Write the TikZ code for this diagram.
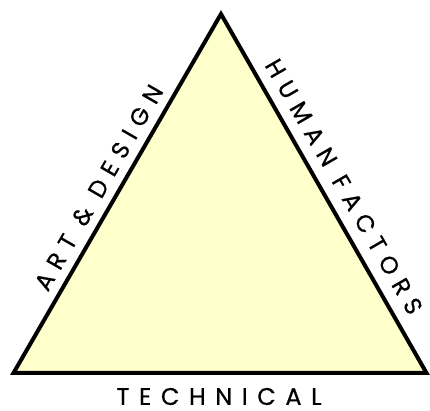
\documentclass[tikz,border=0pt]{standalone}
\usepackage{fontspec}
\setmainfont{Poppins}[LetterSpace=40, FakeBold=0.6]
\usetikzlibrary{calc}
\definecolor{paleyellow}{HTML}{FFFFCC}
\begin{document}
\begin{tikzpicture}[x=1pt,y=1pt,
  edgelabel/.style={font=\fontsize{24}{28}\selectfont, inner sep=0pt, anchor=center},
  sidelabel/.style={edgelabel, font=\fontsize{24}{28}\selectfont\addfontfeatures{LetterSpace=34}},
  tri/.style={draw=black, line width=4pt, line join=miter, fill=paleyellow}]
\useasboundingbox (0,0) rectangle (430,411);
\coordinate (L) at (13.5,38);
\coordinate (R) at (426.5,38);
\coordinate (A) at (221,397);
\draw[tri] (L) -- (A) -- (R) -- cycle;
\coordinate (ML) at ($(L)!0.49!(A)$);
\coordinate (MR) at ($(A)!0.51!(R)$);
\node[sidelabel, rotate=60] (art) at ($(ML)!19pt!90:(A)$) {ART \& DESIGN};
\node[sidelabel, rotate=-60] (hf) at ($(MR)!21pt!90:(R)$) {HUMAN FACTORS};
\node[edgelabel] (tech) at (219,14.5) {TECHNICAL};
\end{tikzpicture}
\end{document}
